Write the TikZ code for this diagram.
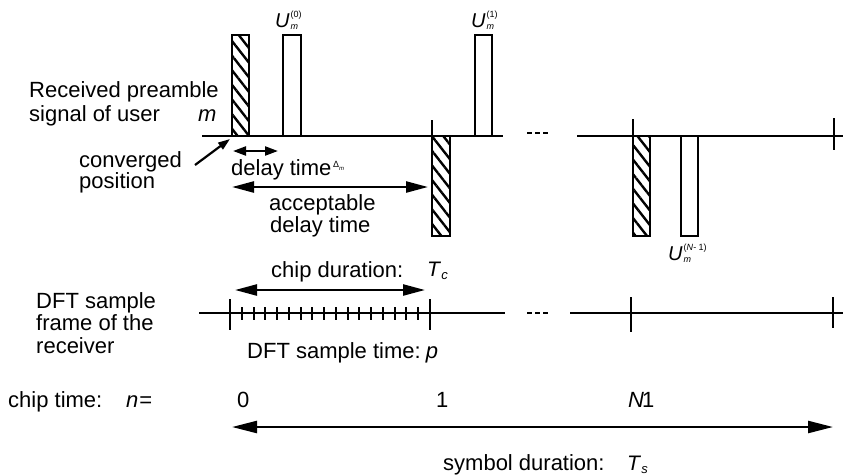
\documentclass[tikz,border=0pt]{standalone}
\usepackage{fontspec}
\setmainfont{Liberation Sans}
\usetikzlibrary{arrows.meta,patterns.meta}
\newcommand\ulab[1]{\textit{U}\kern1pt\rlap{\raisebox{-2pt}{\fontsize{9}{9}\selectfont\textit{m}}}\raisebox{10pt}{\fontsize{9}{9}\selectfont #1}}
\newcommand\tsub[2]{\textit{#1}\raisebox{-3pt}{\fontsize{13}{13}\selectfont\textit{#2}}}
\begin{document}
\begin{tikzpicture}[x=1pt,y=-1pt,
  every node/.style={inner sep=0pt, anchor=base west, font=\fontsize{22}{24}\selectfont},
  ulabel/.style={font=\fontsize{20}{20}\selectfont},
  tlabel/.style={font=\fontsize{21}{21}\selectfont},
  ax/.style={line width=2pt},
  tick/.style={line width=2pt},
  stick/.style={line width=2pt},
  dots/.style={line width=2pt, dash pattern=on 5pt off 3pt},
  bar/.style={draw, line width=2pt},
  hatch/.style={bar, pattern={Lines[angle=-52,distance=9pt,line width=2.4pt]}},
  dim/.style={line width=2.4pt, {Triangle[length=22pt,width=11pt]}-{Triangle[length=22pt,width=11pt]}},
  bdim/.style={line width=2.4pt, {Triangle[length=25pt,width=12pt]}-{Triangle[length=25pt,width=12pt]}},
  sdim/.style={line width=2.2pt, {Triangle[length=13pt,width=9pt]}-{Triangle[length=13pt,width=9pt]}},
  sarrow/.style={line width=2.2pt, -{Triangle[length=12pt,width=8pt]}},
]
\useasboundingbox (0,0) rectangle (843,475);

% ---------- top signal axis ----------
\coordinate (t1a) at (202,135.5); \coordinate (t1b) at (503,135.5);
\coordinate (tda) at (527,133);   \coordinate (tdb) at (548,133);
\coordinate (t2a) at (577,135.5); \coordinate (t2b) at (843,135.5);
\draw[ax] (t1a) -- (t1b);
\draw[dots] (tda) -- (tdb);
\draw[ax] (t2a) -- (t2b);
\draw[tick] (432,120) -- (432,135.5);
\draw[tick] (633,119) -- (633,135.5);
\draw[tick] (834,118) -- (834,150);

% bars
\draw[hatch] (231.7,35) rectangle (249.3,135.5);
\draw[bar]   (282.7,35) rectangle (300.7,135.5);
\draw[hatch] (432,135.5) rectangle (450,236);
\draw[bar]   (475,35) rectangle (492.3,135.5);
\draw[hatch] (633,135.5) rectangle (650,236);
\draw[bar]   (681,135.5) rectangle (698,236);

\node[ulabel] (u0) at (275,27) {\ulab{(0)}};
\node[ulabel] (u1) at (471,27) {\ulab{(1)}};
\node[ulabel] (un) at (668,260) {\ulab{(\textit{N}- 1)}};

% left labels
\node (rp1) at (29,97) {Received preamble};
\node (rp2) at (29,121) {signal of user};
\node (rpm) at (198,121) {\textit{m}};
\node (cv1) at (79,167) {converged};
\node (cv2) at (79,188) {position};

\coordinate (cva) at (195,165); \coordinate (cvb) at (230,139);
\draw[sarrow] (cva) -- (cvb);

% delay time
\coordinate (dla) at (233,151); \coordinate (dlb) at (278,151);
\draw[sdim] (dla) -- (dlb);
\node (dl) at (231,175) {delay time};
\node (dm) at (333,167) {\fontsize{9}{9}\selectfont Δ\raisebox{-3pt}{\fontsize{6}{6}\selectfont\textit{m}}};

% acceptable delay time
\coordinate (aca) at (232,187); \coordinate (acb) at (428,187);
\draw[dim] (aca) -- (acb);
\node (ac1) at (269,210) {acceptable};
\node (ac2) at (270,232) {delay time};

% chip duration
\node (cd) at (271,277) {chip duration:};
\node[tlabel] (tc) at (427,276) {\tsub{T}{c}};
\coordinate (cda) at (235,290); \coordinate (cdb) at (425,290);
\draw[dim] (cda) -- (cdb);

% ---------- DFT sample frame ----------
\node (df1) at (36,308) {DFT sample};
\node (df2) at (36,330) {frame of the};
\node (df3) at (36,353) {receiver};

\coordinate (d1a) at (199,313); \coordinate (d1b) at (505,313);
\coordinate (dda) at (527,313); \coordinate (ddb) at (550,313);
\coordinate (d2a) at (570,313); \coordinate (d2b) at (843,313);
\draw[ax] (d1a) -- (d1b);
\draw[dots] (dda) -- (ddb);
\draw[ax] (d2a) -- (d2b);
\draw[tick] (230,299) -- (230,330);
\draw[tick] (430,299) -- (430,330);
\draw[tick] (631,297) -- (631,332);
\draw[tick] (833,297) -- (833,328);
\foreach \i in {1,...,16}
  \draw[stick] ({230+\i*200/17},307) -- ({230+\i*200/17},320);

\node (dst) at (247,358) {DFT sample time:\kern5pt\textit{p}};

% ---------- chip time ----------
\node (ct) at (8,407) {chip time:};
\node (ctn) at (126,407) {\textit{n}\kern1pt=};
\node (c0) at (237,407) {0};
\node (c1) at (436,407) {1};
\node (cn) at (628,407) {\textit{N}\kern-2pt1};

\coordinate (sya) at (232,427); \coordinate (syb) at (833,427);
\draw[bdim] (sya) -- (syb);
\node (sy) at (443,470) {symbol duration:};
\node[tlabel] (ts) at (627,470) {\tsub{T}{s}};
\end{tikzpicture}
\end{document}
